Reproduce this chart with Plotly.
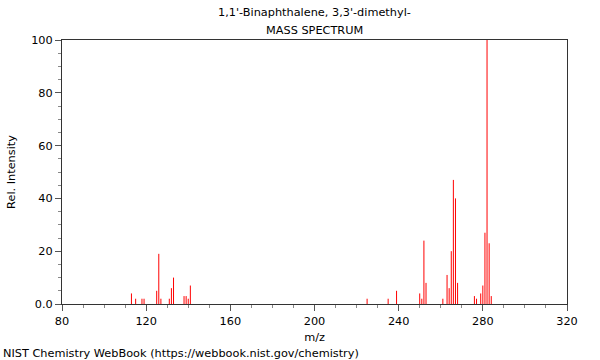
import plotly.graph_objects as go

mz = [113, 115, 118, 119, 125, 126, 127, 131, 132, 133, 138, 139, 140, 141,
      225, 235, 239, 250, 251, 252, 253, 261, 263, 264, 265, 266, 267, 268,
      276, 277, 279, 280, 281, 282, 283, 284]
intensity = [4, 2, 2, 2, 5, 19, 2, 2, 6, 10, 3, 3, 2, 7,
             2, 2, 5, 4, 2, 24, 8, 2, 11, 6, 20, 47, 40, 8,
             3, 2, 4, 7, 27, 100, 23, 3]

x_ticks = [80, 120, 160, 200, 240, 280, 320]
y_ticks = [0, 20, 40, 60, 80, 100]
y_ticktext = ["0.0", "20", "40", "60", "80", "100"]

xs, ys = [], []
for m, v in zip(mz, intensity):
    xs += [m, m, None]
    ys += [0, v, None]

fig = go.Figure()
fig.add_trace(go.Scatter(x=xs, y=ys, mode="lines",
                         line=dict(color="#ff0000", width=1),
                         hoverinfo="skip", showlegend=False))

font = dict(family="DejaVu Sans", size=11.3, color="#000000")

L, R, T, B = 62, 33, 40, 56
fig.update_layout(
    width=600, height=360,
    margin=dict(l=L, r=R, t=T, b=B, autoexpand=False),
    paper_bgcolor="white", plot_bgcolor="white",
    font=font,
    xaxis=dict(range=[80, 320], tickvals=x_ticks, showgrid=False, zeroline=False,
               showline=True, linecolor="#333333", linewidth=1, mirror=True,
               ticks="outside", ticklen=6, tickcolor="#555555", automargin=False,
               minor=dict(dtick=10, tick0=80, ticks="outside", ticklen=3, tickcolor="#888888"),
               title=dict(text="m/z", standoff=6, font=font), tickfont=font),
    yaxis=dict(range=[0, 100], tickvals=y_ticks, ticktext=y_ticktext, showgrid=False,
               zeroline=False, showline=True, linecolor="#333333", linewidth=1, mirror=True,
               ticks="outside", ticklen=6, tickcolor="#555555", automargin=False,
               minor=dict(dtick=5, tick0=0, ticks="outside", ticklen=3, tickcolor="#888888"),
               title=dict(text="Rel. Intensity", standoff=13, font=font), tickfont=font),
)

plot_w = 600 - L - R
plot_h = 360 - T - B
def px_to_paper_x(px):
    return (px - L) / plot_w
def py_to_paper_y(py):
    return (360 - B - py) / plot_h

fig.add_annotation(text="1,1'-Binaphthalene, 3,3'-dimethyl-", xref="paper", yref="paper",
                   x=px_to_paper_x(314), y=py_to_paper_y(13), xanchor="center",
                   yanchor="middle", showarrow=False, font=font)
fig.add_annotation(text="MASS SPECTRUM", xref="paper", yref="paper",
                   x=px_to_paper_x(314), y=py_to_paper_y(30), xanchor="center",
                   yanchor="middle", showarrow=False, font=font)
fig.add_annotation(text="NIST Chemistry WebBook (https://webbook.nist.gov/chemistry)",
                   xref="paper", yref="paper", x=px_to_paper_x(1), y=py_to_paper_y(353),
                   xanchor="left", yanchor="middle", showarrow=False, font=font)

fig.write_html("out.html", config={"displayModeBar": False},
               post_script="document.body.style.margin='0';document.body.style.overflow='hidden';")
